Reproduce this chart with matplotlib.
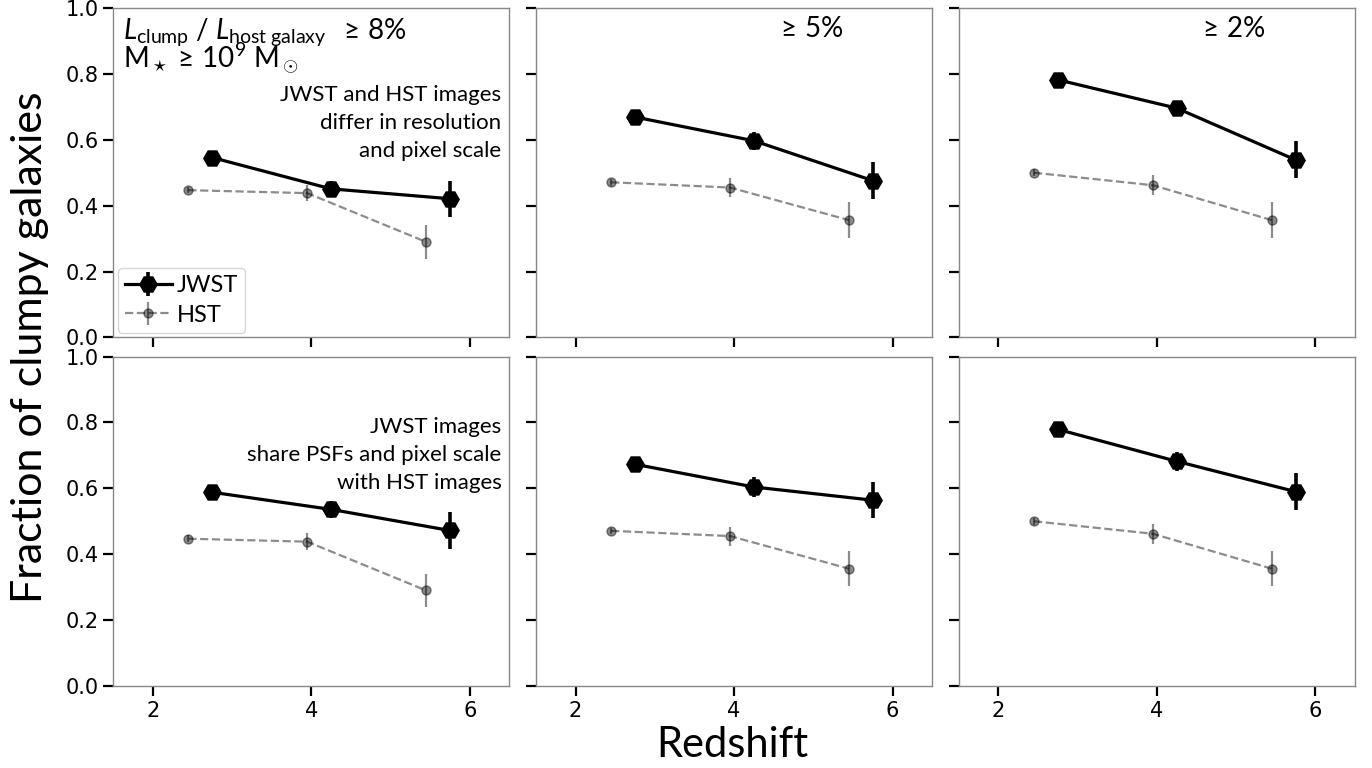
import matplotlib
matplotlib.use("Agg")
import matplotlib.pyplot as plt

plt.rcParams['font.family'] = ['Lato', 'DejaVu Sans']
plt.rcParams['mathtext.fontset'] = 'custom'
plt.rcParams['mathtext.rm'] = 'Lato'
plt.rcParams['mathtext.it'] = 'Lato:italic'
plt.rcParams['mathtext.bf'] = 'Lato:bold'

# redshift positions (JWST and HST offset around the bin centres)
z_jwst = [2.75, 4.25, 5.75]
z_hst = [2.45, 3.95, 5.45]

# top row: JWST vs HST with different resolution / pixel scale
jwst_top = [[0.546, 0.451, 0.421], [0.669, 0.597, 0.476], [0.782, 0.696, 0.539]]
jwst_top_err = [[0.012, 0.025, 0.055], [0.012, 0.027, 0.056], [0.012, 0.022, 0.056]]
# bottom row: JWST matched to HST PSF and pixel scale
jwst_bot = [[0.588, 0.536, 0.472], [0.673, 0.604, 0.564], [0.779, 0.682, 0.590]]
jwst_bot_err = [[0.012, 0.027, 0.056], [0.012, 0.029, 0.055], [0.012, 0.028, 0.056]]

hst = [[0.447, 0.438, 0.290], [0.471, 0.455, 0.356], [0.500, 0.462, 0.356]]
hst_err = [[0.010, 0.025, 0.051], [0.010, 0.029, 0.054], [0.010, 0.030, 0.054]]

thresholds = ['8', '5', '2']

fig, axes = plt.subplots(2, 3, figsize=(13.72, 7.68), dpi=100, sharex=True, sharey=True)
fig.subplots_adjust(left=0.0824, right=0.9876, top=0.9896, bottom=0.1068,
                    wspace=0.067, hspace=0.058)

for row in range(2):
    jw = jwst_top if row == 0 else jwst_bot
    jw_err = jwst_top_err if row == 0 else jwst_bot_err
    for col in range(3):
        ax = axes[row, col]
        ax.errorbar(z_jwst, jw[col], yerr=jw_err[col], color='k', marker='H',
                    markersize=12.5, lw=2.3, elinewidth=2.6, capsize=0, label='JWST', zorder=3)
        ax.errorbar(z_hst, hst[col], yerr=hst_err[col], color='k', alpha=0.45, marker='o',
                    markersize=6.5, lw=1.6, ls='--', elinewidth=1.6, capsize=0, label='HST')
        ax.set_xlim(1.5, 6.5)
        ax.set_ylim(0, 1)
        ax.set_xticks([2, 4, 6])
        ax.set_yticks([0, 0.2, 0.4, 0.6, 0.8, 1.0])
        ax.tick_params(direction='out', length=7, width=1.6, labelsize=15)
        for lab in ax.get_xticklabels() + ax.get_yticklabels():
            lab.set_family('DejaVu Sans')
        for s in ax.spines.values():
            s.set_color('#888888')
            s.set_linewidth(1.0)
        if row == 0:
            if col == 0:
                ax.text(0.024, 0.975,
                        r'$L_{\rm clump}$ / $L_{\rm host\ galaxy}$  $\geq\,8\%$' + '\n'
                        + r'M$_\star\,\geq\,10^9$ M$_\odot$',
                        transform=ax.transAxes, fontsize=20, va='top', ha='left',
                        linespacing=0.72)
            else:
                ax.text(0.69, 0.975, r'$\geq\,%s\%%$' % thresholds[col],
                        transform=ax.transAxes, fontsize=20, va='top', ha='center')

axes[0, 0].text(0.98, 0.765, 'JWST and HST images\ndiffer in resolution\nand pixel scale',
                transform=axes[0, 0].transAxes, fontsize=16, ha='right', va='top',
                linespacing=1.5)
axes[1, 0].text(0.98, 0.815, 'JWST images\nshare PSFs and pixel scale\nwith HST images',
                transform=axes[1, 0].transAxes, fontsize=16, ha='right', va='top',
                linespacing=1.5)

axes[0, 0].legend(loc='lower left', fontsize=17, handlelength=2.0, borderpad=0.3,
                  labelspacing=0.35, handletextpad=0.2, borderaxespad=0.2)

fig.text(0.022, 0.548, 'Fraction of clumpy galaxies', rotation=90, fontsize=31,
         ha='center', va='center')
fig.text(0.534, 0.03, 'Redshift', fontsize=30, ha='center', va='center')

fig.savefig('out.png', dpi=100)
